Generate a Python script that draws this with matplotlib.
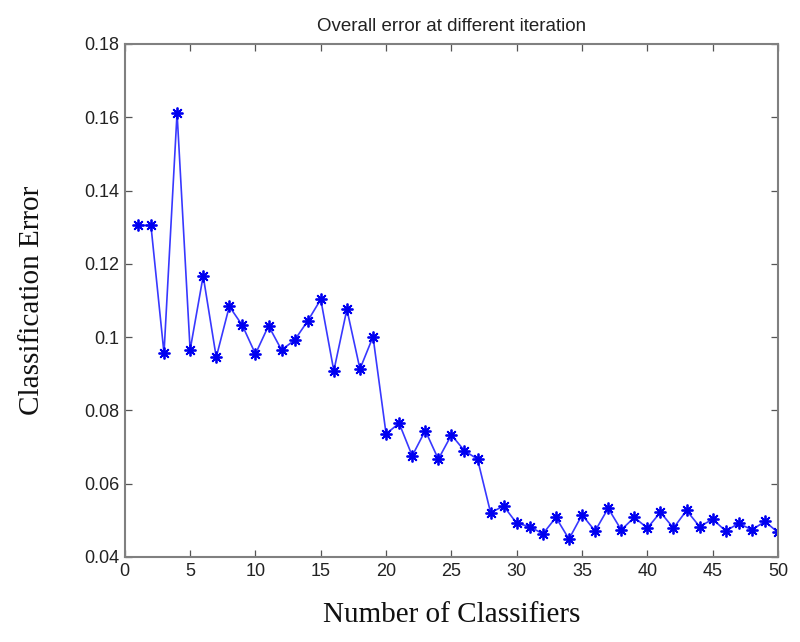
import matplotlib
matplotlib.use("Agg")
import matplotlib.pyplot as plt

iterations = list(range(1, 51))
errors = [0.1305, 0.1305, 0.0956, 0.1612, 0.0965, 0.1167, 0.0945, 0.1084, 0.1032, 0.0954,
          0.1031, 0.0965, 0.0992, 0.1044, 0.1103, 0.0908, 0.1076, 0.0913, 0.1001, 0.0736,
          0.0765, 0.0676, 0.0745, 0.0667, 0.0733, 0.0690, 0.0667, 0.0521, 0.0539, 0.0492,
          0.0483, 0.0463, 0.0508, 0.0449, 0.0515, 0.0471, 0.0533, 0.0474, 0.0508, 0.0479,
          0.0522, 0.0479, 0.0527, 0.0483, 0.0503, 0.0471, 0.0492, 0.0474, 0.0497, 0.0467]
xticks = [0, 5, 10, 15, 20, 25, 30, 35, 40, 45, 50]
yticks = [0.04, 0.06, 0.08, 0.10, 0.12, 0.14, 0.16, 0.18]
ytick_labels = ["0.04", "0.06", "0.08", "0.1", "0.12", "0.14", "0.16", "0.18"]

fig = plt.figure(figsize=(8.0, 6.42), dpi=100)
ax = fig.add_axes([0.156, 0.1324, 0.8165, 0.7991])

ax.plot(iterations, errors, color="#3838ff", linewidth=1.2, marker=(8, 2, 0),
        markersize=8.5, markeredgewidth=1.3, markeredgecolor="#0000f0",
        markerfacecolor="#0000f0")

ax.set_xlim(0, 50)
ax.set_ylim(0.04, 0.18)
ax.set_xticks(xticks)
ax.set_yticks(yticks)
ax.set_yticklabels(ytick_labels)

sans = ["Liberation Sans", "DejaVu Sans"]
serif = ["Liberation Serif", "DejaVu Serif"]
for lab in ax.get_xticklabels() + ax.get_yticklabels():
    lab.set_fontfamily(sans)
    lab.set_fontsize(13)
    lab.set_color("#222222")

ax.tick_params(direction="in", top=True, right=True, length=5, width=0.9,
               color="#555555", pad=4)
for s in ax.spines.values():
    s.set_color("#808080")
    s.set_linewidth(1.5)

ax.set_title("Overall error at different iteration", family=sans,
             fontsize=13.5, color="#222222", pad=9)
ax.set_xlabel("Number of Classifiers", family=serif,
              fontsize=21, color="#111111", labelpad=16)
ax.set_ylabel("Classification Error", family=serif,
              fontsize=21, color="#111111", labelpad=28)

fig.savefig("out.png", dpi=100, facecolor="white")
